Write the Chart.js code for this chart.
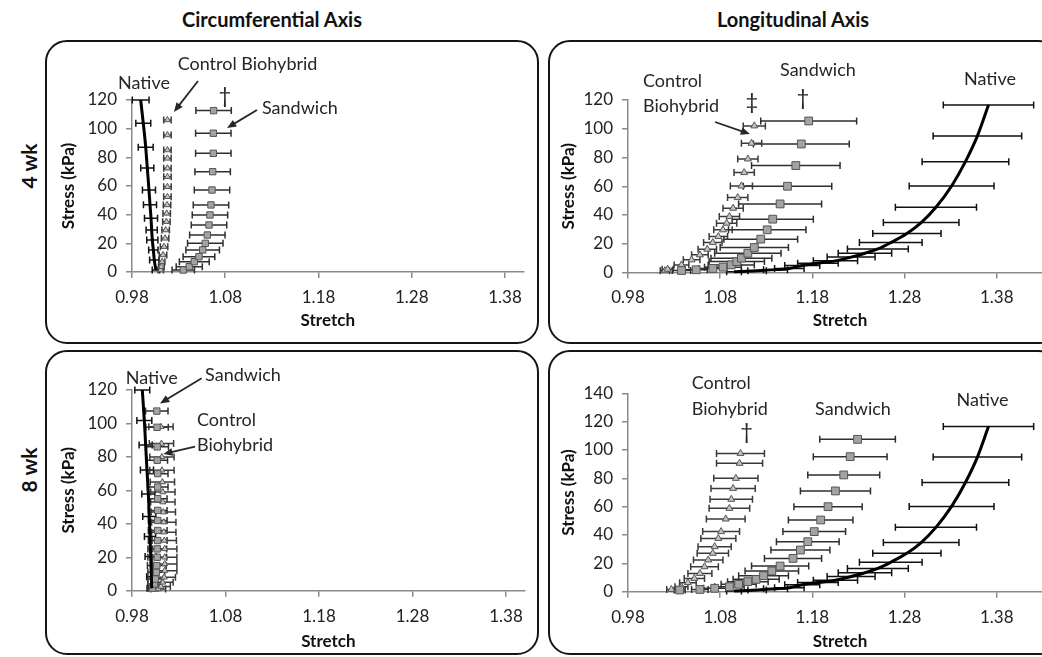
<!DOCTYPE html>
<html>
<head>
<meta charset="utf-8">
<script src="https://cdn.jsdelivr.net/npm/chart.js@4.4.0/dist/chart.umd.min.js"></script>
<style>
    body { margin: 0; width: 1042px; height: 657px; overflow: hidden; background: #fff; position: relative; font-family: Lato, sans-serif; color: #111; }
    .panel { position: absolute; border: 2.5px solid #151515; border-radius: 22px; box-sizing: border-box; }
    canvas { position: absolute; }
    .col-title { position: absolute; top: 7px; font-weight: bold; font-size: 20px; transform: translateX(-50%); white-space: nowrap; }
    .row-title { position: absolute; font-weight: bold; font-size: 21px; transform: translate(-50%, -50%) rotate(-90deg); white-space: nowrap; }
</style>
</head>
<body>
<div class="col-title" style="left:272px">Circumferential Axis</div>
<div class="col-title" style="left:793px">Longitudinal Axis</div>
<div class="row-title" style="left:28px; top:166px">4 wk</div>
<div class="row-title" style="left:28px; top:470px">8 wk</div>

<div class="panel" style="left:45px; top:40px; width:494px; height:304px"></div>
<div class="panel" style="left:548px; top:40px; width:512px; height:304px"></div>
<div class="panel" style="left:45px; top:350px; width:494px; height:305px"></div>
<div class="panel" style="left:548px; top:350px; width:512px; height:305px"></div>

<canvas id="circ4" width="494" height="304" style="left:45px; top:40px"></canvas>
<canvas id="long4" width="512" height="304" style="left:548px; top:40px"></canvas>
<canvas id="circ8" width="494" height="305" style="left:45px; top:350px"></canvas>
<canvas id="long8" width="512" height="305" style="left:548px; top:350px"></canvas>

<script>
// axis ticks
const stretchTicks = [0.98, 1.08, 1.18, 1.28, 1.38];
const stressTicks120 = [0, 20, 40, 60, 80, 100, 120];
const stressTicks140 = [0, 20, 40, 60, 80, 100, 120, 140];

// 4 wk, circumferential
const circ4NativeStretch = [0.9893, 0.9921, 0.9947, 0.9964, 0.9982, 0.9993, 1.0004, 1.0011, 1.0018, 1.0029, 1.0039, 1.0057];
const circ4NativeStress = [120, 103.8, 87.1, 72.6, 57.2, 47.0, 37.5, 29.3, 22.3, 15.3, 8.4, 1.4];
const circ4NativeErr = [0.009, 0.008, 0.008, 0.007, 0.007, 0.007, 0.007, 0.006, 0.006, 0.005, 0.005, 0.004];

const circ4CtrlStretch = [1.0108, 1.0115, 1.0123, 1.0133, 1.0144, 1.0155, 1.0161, 1.0169, 1.0172, 1.0176, 1.018, 1.018, 1.018, 1.018, 1.018, 1.018, 1.018, 1.018];
const circ4CtrlStress = [1.4, 3.7, 7.2, 11.9, 17.7, 23.5, 29.3, 35.1, 40.9, 46.8, 52.5, 59.5, 66.5, 72.4, 79.3, 85.1, 95.6, 106.1];
const circ4CtrlErr = [0.003, 0.003, 0.003, 0.004, 0.004, 0.004, 0.004, 0.004, 0.004, 0.004, 0.004, 0.004, 0.004, 0.004, 0.004, 0.004, 0.004, 0.004];

const circ4SandStretch = [1.035, 1.0414, 1.0468, 1.0518, 1.0558, 1.0586, 1.0608, 1.0626, 1.0636, 1.0647, 1.0658, 1.0665, 1.0672, 1.0672, 1.0675];
const circ4SandStress = [1.4, 3.7, 7.2, 10.7, 15.4, 20.0, 25.8, 32.8, 39.8, 46.8, 57.2, 70.0, 82.8, 96.8, 112.6];
const circ4SandErr = [0.012, 0.014, 0.016, 0.017, 0.018, 0.019, 0.019, 0.019, 0.019, 0.019, 0.019, 0.019, 0.019, 0.019, 0.019];

// 4 wk, longitudinal
const longNativeStretch = [1.095, 1.120, 1.140, 1.155, 1.169, 1.186, 1.205, 1.222, 1.237, 1.251, 1.265, 1.2825, 1.298, 1.314, 1.331, 1.346, 1.359, 1.371];
const longNativeStress = [0.5, 1.2, 2.0, 2.8, 4.9, 6.5, 8.1, 10.7, 13.4, 16.4, 20.8, 27.1, 34.7, 45.4, 60.2, 77.1, 95.0, 116.5];
const longNativeErr = [0.008, 0.010, 0.013, 0.016, 0.019, 0.022, 0.024, 0.026, 0.029, 0.033, 0.034, 0.037, 0.041, 0.044, 0.046, 0.047, 0.048, 0.049];

const long4CtrlStretch = [1.020, 1.023, 1.038, 1.049, 1.058, 1.066, 1.072, 1.078, 1.083, 1.087, 1.090, 1.094, 1.099, 1.103, 1.106, 1.110, 1.114, 1.117];
const long4CtrlStress = [1.2, 2.3, 5.3, 8.8, 12.3, 16.2, 20.8, 25.0, 29.7, 34.3, 38.9, 44.7, 52.1, 60.2, 69.5, 79.0, 89.9, 102];
const long4CtrlErr = [0.005, 0.006, 0.008, 0.009, 0.009, 0.010, 0.010, 0.010, 0.010, 0.011, 0.011, 0.011, 0.011, 0.012, 0.011, 0.011, 0.011, 0.012];

const long4SandStretch = [1.038, 1.054, 1.072, 1.083, 1.092, 1.098, 1.103, 1.110, 1.117, 1.124, 1.131, 1.137, 1.145, 1.153, 1.162, 1.168, 1.176];
const long4SandStress = [1.4, 1.9, 2.8, 3.7, 5.3, 7.6, 10.0, 13.4, 17.4, 23.2, 29.7, 37.1, 47.7, 60.0, 74.4, 89.4, 105.4];
const long4SandErr = [0.010, 0.012, 0.015, 0.020, 0.025, 0.030, 0.033, 0.036, 0.037, 0.040, 0.042, 0.044, 0.045, 0.048, 0.048, 0.052, 0.052];

// 8 wk, circumferential
const circ8NativeStretch = [0.9910, 0.9932, 0.9946, 0.9960, 0.9975, 0.9985, 0.9993, 1.0000, 1.0007, 1.0011];
const circ8NativeStress = [120, 101.7, 87.1, 72.2, 57.8, 44.3, 32.4, 20.4, 8.4, 1.4];
const circ8NativeErr = [0.008, 0.008, 0.007, 0.007, 0.007, 0.007, 0.006, 0.006, 0.005, 0.004];

const circ8CtrlStretch = [1.008, 1.011, 1.013, 1.0145, 1.015, 1.015, 1.015, 1.015, 1.0145, 1.014, 1.014, 1.0135, 1.013, 1.013, 1.0125, 1.012, 1.012, 1.0115, 1.011];
const circ8CtrlStress = [1, 2.5, 5, 8, 12, 16, 20, 25, 30, 35, 41, 47, 53, 59, 65, 72, 80, 88, 98];
const circ8CtrlErr = [0.008, 0.010, 0.011, 0.012, 0.013, 0.013, 0.013, 0.013, 0.013, 0.013, 0.013, 0.013, 0.013, 0.013, 0.013, 0.013, 0.013, 0.013, 0.013];

const circ8SandStretch = [1.002, 1.004, 1.005, 1.006, 1.0065, 1.007, 1.007, 1.0075, 1.0075, 1.0075, 1.0075, 1.0075, 1.0075, 1.0075, 1.007, 1.007, 1.0068, 1.0065];
const circ8SandStress = [1.5, 4, 7, 11, 15, 20, 25, 30, 36, 42, 48, 55, 62, 70, 78, 86, 97.7, 107.4];
const circ8SandErr = [0.006, 0.007, 0.008, 0.009, 0.010, 0.010, 0.010, 0.010, 0.010, 0.010, 0.010, 0.010, 0.011, 0.011, 0.011, 0.012, 0.012, 0.012];

// 8 wk, longitudinal (native same as 4 wk)
const long8CtrlStretch = [1.027, 1.038, 1.045, 1.052, 1.058, 1.063, 1.067, 1.072, 1.074, 1.078, 1.081, 1.086, 1.090, 1.092, 1.094, 1.097, 1.101, 1.102];
const long8CtrlStress = [1.6, 3.5, 6.4, 9.4, 12.9, 17.6, 22.4, 27.1, 31.8, 37.6, 42.4, 51.3, 58.8, 65.2, 72.9, 80.0, 90.6, 97.6];
const long8CtrlErr = [0.005, 0.007, 0.009, 0.011, 0.013, 0.015, 0.016, 0.017, 0.018, 0.019, 0.020, 0.021, 0.022, 0.023, 0.024, 0.024, 0.025, 0.026];

const long8SandStretch = [1.036, 1.058, 1.074, 1.090, 1.100, 1.110, 1.119, 1.127, 1.136, 1.145, 1.159, 1.167, 1.175, 1.182, 1.189, 1.197, 1.205, 1.214, 1.221, 1.229];
const long8SandStress = [1.2, 1.6, 2.4, 3.5, 5.2, 7.1, 8.7, 11.3, 14.6, 18.1, 23.5, 29.4, 35.3, 42.4, 50.6, 60.0, 71.1, 82.4, 95.3, 107.5];
const long8SandErr = [0.006, 0.009, 0.012, 0.016, 0.019, 0.022, 0.025, 0.027, 0.029, 0.031, 0.031, 0.032, 0.034, 0.034, 0.035, 0.037, 0.038, 0.039, 0.040, 0.041];

const FONT = 'Lato';

function pts(xs, ys) {
    return xs.map((x, i) => ({ x, y: ys[i] }));
}

// horizontal SD bars, drawn under the markers
const errorBars = {
    id: 'errorBars',
    beforeDatasetsDraw(chart) {
        const { ctx } = chart;
        const xs = chart.scales.x;
        const ys = chart.scales.y;
        chart.data.datasets.forEach((ds) => {
            if (!ds.errors) {
                return;
            }
            ctx.save();
            ctx.strokeStyle = ds.errorColor;
            ctx.lineWidth = 1.5;
            ds.data.forEach((p, i) => {
                const e = ds.errors[i];
                const x0 = xs.getPixelForValue(p.x - e);
                const x1 = xs.getPixelForValue(p.x + e);
                const py = ys.getPixelForValue(p.y);
                ctx.beginPath();
                ctx.moveTo(x0, py);
                ctx.lineTo(x1, py);
                ctx.moveTo(x0, py - 3.5);
                ctx.lineTo(x0, py + 3.5);
                ctx.moveTo(x1, py - 3.5);
                ctx.lineTo(x1, py + 3.5);
                ctx.stroke();
            });
            ctx.restore();
        });
    },
};

// group labels, daggers and arrows, placed in data units
function notes(texts, arrows) {
    return {
        id: 'notes',
        afterDraw(chart) {
            const { ctx } = chart;
            const xs = chart.scales.x;
            const ys = chart.scales.y;
            ctx.save();
            ctx.fillStyle = '#262626';
            ctx.strokeStyle = '#262626';
            ctx.textBaseline = 'middle';
            texts.forEach((t) => {
                ctx.font = `${t.size || 18}px ${FONT}`;
                ctx.textAlign = t.align || 'center';
                ctx.fillText(t.text, xs.getPixelForValue(t.x), ys.getPixelForValue(t.y));
            });
            arrows.forEach((a) => {
                const x0 = xs.getPixelForValue(a[0]);
                const y0 = ys.getPixelForValue(a[1]);
                const x1 = xs.getPixelForValue(a[2]);
                const y1 = ys.getPixelForValue(a[3]);
                const ang = Math.atan2(y1 - y0, x1 - x0);
                ctx.lineWidth = 1.8;
                ctx.beginPath();
                ctx.moveTo(x0, y0);
                ctx.lineTo(x1 - 6 * Math.cos(ang), y1 - 6 * Math.sin(ang));
                ctx.stroke();
                ctx.beginPath();
                ctx.moveTo(x1, y1);
                ctx.lineTo(x1 - 10 * Math.cos(ang - 0.4), y1 - 10 * Math.sin(ang - 0.4));
                ctx.lineTo(x1 - 10 * Math.cos(ang + 0.4), y1 - 10 * Math.sin(ang + 0.4));
                ctx.closePath();
                ctx.fill();
            });
            ctx.restore();
        },
    };
}

function nativeSet(xs, ys, err) {
    return {
        label: 'Native',
        data: pts(xs, ys),
        errors: err,
        errorColor: '#111',
        showLine: true,
        borderColor: '#000',
        borderWidth: 3,
        pointRadius: 0,
        cubicInterpolationMode: 'monotone',
        clip: false,
        order: 0,
    };
}

function sandSet(xs, ys, err, r) {
    return {
        label: 'Sandwich',
        data: pts(xs, ys),
        errors: err,
        errorColor: '#2e2e2e',
        pointStyle: 'rect',
        pointRadius: r,
        backgroundColor: '#a3a3a3',
        borderColor: '#555',
        borderWidth: 1,
        clip: false,
        order: 1,
    };
}

function ctrlSet(xs, ys, err, r) {
    return {
        label: 'Control Biohybrid',
        data: pts(xs, ys),
        errors: err,
        errorColor: '#3a3a3a',
        pointStyle: 'triangle',
        pointRadius: r,
        backgroundColor: '#c4c4c4',
        borderColor: '#555',
        borderWidth: 1,
        clip: false,
        order: 2,
    };
}

function axes(xMax, yTicks, d) {
    const line = '#8a8a8a';
    return {
        x: {
            type: 'linear',
            min: 0.98,
            max: xMax,
            afterBuildTicks: (a) => { a.ticks = stretchTicks.map((v) => ({ value: v })); },
            afterFit: (a) => { a.height = d.xh; },
            ticks: {
                callback: (v) => v.toFixed(2),
                color: '#222',
                font: { family: FONT, size: 17 },
                padding: d.xpad,
                maxRotation: 0,
                autoSkip: false,
            },
            grid: { drawOnChartArea: false, tickLength: 6, color: line, lineWidth: 1.5 },
            border: { color: line, width: 1.5 },
            title: { display: true, text: 'Stretch', color: '#111', font: { family: FONT, size: 17, weight: 'bold' }, padding: 0 },
        },
        y: {
            type: 'linear',
            min: 0,
            max: yTicks[yTicks.length - 1],
            afterBuildTicks: (a) => { a.ticks = yTicks.map((v) => ({ value: v })); },
            afterFit: (a) => { a.width = d.yw; },
            ticks: {
                color: '#222',
                font: { family: FONT, size: 17 },
                padding: 9,
                autoSkip: false,
            },
            grid: { drawOnChartArea: false, tickLength: 6, color: line, lineWidth: 1.5 },
            border: { color: line, width: 1.5 },
            title: { display: true, text: 'Stress (kPa)', color: '#111', font: { family: FONT, size: 17, weight: 'bold' }, padding: 0 },
        },
    };
}

function panel(id, datasets, xMax, yTicks, d, texts, arrows) {
    const el = document.getElementById(id);
    new Chart(el, {
        type: 'scatter',
        data: { datasets },
        options: {
            responsive: false,
            animation: false,
            events: [],
            layout: { padding: d.pad },
            plugins: { legend: { display: false }, tooltip: { enabled: false } },
            scales: axes(xMax, yTicks, d),
        },
        plugins: [errorBars, notes(texts, arrows)],
    });
}

panel('circ4', [
    nativeSet(circ4NativeStretch, circ4NativeStress, circ4NativeErr),
    sandSet(circ4SandStretch, circ4SandStress, circ4SandErr, 4.5),
    ctrlSet(circ4CtrlStretch, circ4CtrlStress, circ4CtrlErr, 3.5),
], 1.40, stressTicks120,
{ pad: { left: 13, right: 15.4, top: 60, bottom: 13 }, yw: 74, xh: 59, xpad: 9 },
[
    { text: 'Native', x: 0.9929, y: 132 },
    { text: 'Control Biohybrid', x: 1.1039, y: 145 },
    { text: 'Sandwich', x: 1.1194, y: 114.4, align: 'left' },
    { text: '\u2020', x: 1.0797, y: 123, size: 22 },
], [
    [1.0508, 133.3, 1.025, 111.7],
    [1.114, 113, 1.0819, 100.5],
]);

panel('long4', [
    nativeSet(longNativeStretch, longNativeStress, longNativeErr),
    sandSet(long4SandStretch, long4SandStress, long4SandErr, 5.5),
    ctrlSet(long4CtrlStretch, long4CtrlStress, long4CtrlErr, 4),
], 1.44, stressTicks120,
{ pad: { left: 10, right: 7.9, top: 60, bottom: 13 }, yw: 70, xh: 58.5, xpad: 9 },
[
    { text: 'Control', x: 0.9963, y: 133.2, align: 'left' },
    { text: 'Biohybrid', x: 0.9963, y: 115.8, align: 'left' },
    { text: '\u2021', x: 1.1145, y: 118.6, size: 22 },
    { text: '\u2020', x: 1.1698, y: 121.4, size: 22 },
    { text: 'Sandwich', x: 1.186, y: 140.9 },
    { text: 'Native', x: 1.3726, y: 134.4 },
], [
    [1.0744, 104.7, 1.1123, 96.3],
]);

panel('circ8', [
    nativeSet(circ8NativeStretch, circ8NativeStress, circ8NativeErr),
    sandSet(circ8SandStretch, circ8SandStress, circ8SandErr, 4.5),
    ctrlSet(circ8CtrlStretch, circ8CtrlStress, circ8CtrlErr, 3.5),
], 1.40, stressTicks120,
{ pad: { left: 13, right: 14.3, top: 40, bottom: 3 }, yw: 74, xh: 61.3, xpad: 10 },
[
    { text: 'Native', x: 1.0011, y: 127 },
    { text: 'Sandwich', x: 1.0987, y: 129 },
    { text: 'Control', x: 1.0495, y: 102, align: 'left' },
    { text: 'Biohybrid', x: 1.0495, y: 87.1, align: 'left' },
], [
    [1.0545, 127, 1.01, 112],
    [1.0474, 86.1, 1.0135, 81.7],
]);

panel('long8', [
    nativeSet(longNativeStretch, longNativeStress, longNativeErr),
    sandSet(long8SandStretch, long8SandStress, long8SandErr, 5.5),
    ctrlSet(long8CtrlStretch, long8CtrlStress, long8CtrlErr, 4),
], 1.44, stressTicks140,
{ pad: { left: 10, right: 7.9, top: 43.3, bottom: 3 }, yw: 70, xh: 60.3, xpad: 10 },
[
    { text: 'Control', x: 1.0491, y: 147, align: 'left' },
    { text: 'Biohybrid', x: 1.0491, y: 128.7, align: 'left' },
    { text: '\u2020', x: 1.1087, y: 113, size: 22 },
    { text: 'Sandwich', x: 1.224, y: 128.7 },
    { text: 'Native', x: 1.3645, y: 134.8 },
], []);
</script>
</body>
</html>
